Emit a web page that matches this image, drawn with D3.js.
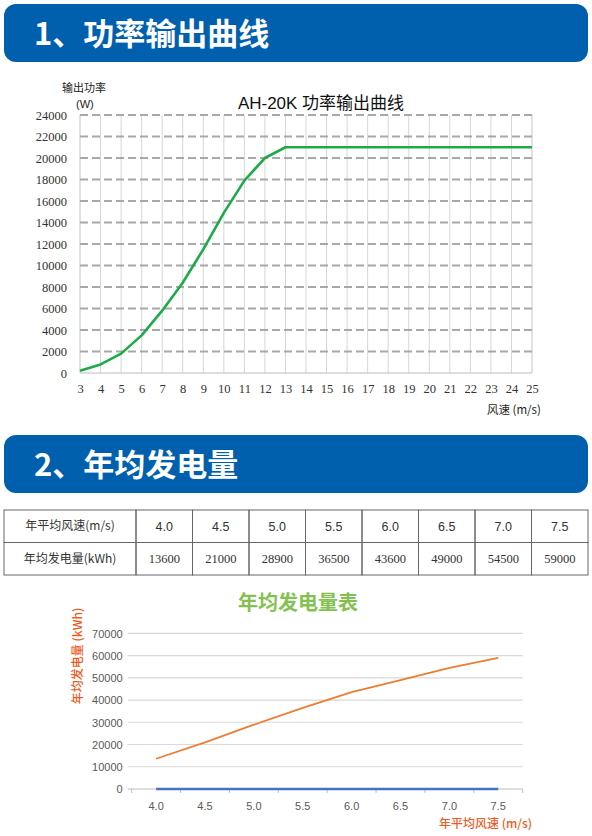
<!DOCTYPE html>
<html>
<head>
<meta charset="utf-8">
<script src="https://cdn.jsdelivr.net/npm/d3@7"></script>
<style>
  body { margin: 0; background: #fff; }
  svg { display: block; }
</style>
</head>
<body>
<div id="page"></div>
<script>
// Power curve data (wind speed m/s -> output W)
const powerSpeeds = [3, 4, 5, 6, 7, 8, 9, 10, 11, 12, 13, 14, 15, 16, 17, 18, 19, 20, 21, 22, 23, 24, 25];
const powerValues = [200, 800, 1800, 3500, 5800, 8400, 11500, 14900, 17900, 20000, 21000, 21000,
    21000, 21000, 21000, 21000, 21000, 21000, 21000, 21000, 21000, 21000, 21000];
const powerTicks = [0, 2000, 4000, 6000, 8000, 10000, 12000, 14000, 16000, 18000, 20000, 22000, 24000];

// Annual energy data
const annualSpeedLabels = ["4.0", "4.5", "5.0", "5.5", "6.0", "6.5", "7.0", "7.5"];
const annualSpeedValues = [4.0, 4.5, 5.0, 5.5, 6.0, 6.5, 7.0, 7.5];
const annualEnergy = [13600, 21000, 28900, 36500, 43600, 49000, 54500, 59000];
const energyTicks = [0, 10000, 20000, 30000, 40000, 50000, 60000, 70000];

const width = 592, height = 836;
const sans = "'Liberation Sans', 'Noto Sans CJK SC', sans-serif";
const cjk = "'Noto Sans CJK SC', sans-serif";
const serif = "'Liberation Serif', 'Noto Sans CJK SC', serif";

const svg = d3.select("#page").append("svg")
    .attr("width", width)
    .attr("height", height);

// Section header bands
function header(y, label) {
    svg.append("rect")
        .attr("x", 4).attr("y", y)
        .attr("width", 584).attr("height", 58)
        .attr("rx", 12)
        .attr("fill", "#0060ae");
    svg.append("text")
        .attr("x", 34).attr("y", y + 41)
        .attr("fill", "#fff")
        .style("font-family", cjk)
        .style("font-weight", 700)
        .style("font-size", "31px")
        .text(label);
}
header(4, "1、功率输出曲线");
header(435, "2、年均发电量");

// ---------- Chart 1: power curve ----------
const x1 = d3.scaleLinear().domain([3, 25]).range([80, 532]);
const y1 = d3.scaleLinear().domain([0, 24000]).range([373, 115]);

const c1 = svg.append("g");

// vertical grid
c1.append("g")
    .selectAll("line")
    .data(powerSpeeds)
    .enter().append("line")
    .attr("x1", d => x1(d)).attr("x2", d => x1(d))
    .attr("y1", y1(24000)).attr("y2", y1(0))
    .attr("stroke", d => (d === 3 || d === 25) ? "#c4c4c4" : "#d6d6d6")
    .attr("stroke-width", 1);

// horizontal dashed grid
c1.append("g")
    .selectAll("line")
    .data(powerTicks.filter(d => d > 0))
    .enter().append("line")
    .attr("x1", x1(3)).attr("x2", x1(25))
    .attr("y1", d => y1(d)).attr("y2", d => y1(d))
    .attr("stroke", "#a8a8a8")
    .attr("stroke-width", 2)
    .attr("stroke-dasharray", "8,4");

// bottom axis line
c1.append("line")
    .attr("x1", x1(3)).attr("x2", x1(25))
    .attr("y1", y1(0)).attr("y2", y1(0))
    .attr("stroke", "#bdbdbd");

// axes (labels only)
const ax1 = c1.append("g")
    .attr("transform", `translate(0,${y1(0) + 6})`)
    .call(d3.axisBottom(x1).tickValues(powerSpeeds).tickFormat(d3.format("d")).tickSize(0));
const ay1 = c1.append("g")
    .attr("transform", `translate(${x1(3) - 10},0)`)
    .call(d3.axisLeft(y1).tickValues(powerTicks).tickFormat(d3.format("d")).tickSize(0));
[ax1, ay1].forEach(a => {
    a.select(".domain").remove();
    a.selectAll("text")
        .style("font-family", serif)
        .style("font-size", "12.5px")
        .attr("fill", "#333");
});
ay1.selectAll("text").attr("dy", "0.35em");
ax1.selectAll("text").attr("dy", "0.9em");

// power line
c1.append("path")
    .datum(powerSpeeds.map((s, i) => [s, powerValues[i]]))
    .attr("fill", "none")
    .attr("stroke", "#1faa4a")
    .attr("stroke-width", 2.6)
    .attr("stroke-linejoin", "round")
    .attr("d", d3.line().x(d => x1(d[0])).y(d => y1(d[1])));

// titles
c1.append("text")
    .attr("x", 321).attr("y", 109)
    .attr("text-anchor", "middle")
    .attr("fill", "#111")
    .style("font-family", sans)
    .style("font-size", "17px")
    .text("AH-20K 功率输出曲线");
c1.append("text")
    .attr("x", 62).attr("y", 92)
    .attr("fill", "#222")
    .style("font-family", cjk)
    .style("font-size", "11px")
    .text("输出功率");
c1.append("text")
    .attr("x", 76).attr("y", 108)
    .attr("fill", "#222")
    .style("font-family", sans)
    .style("font-size", "11px")
    .text("(W)");
c1.append("text")
    .attr("x", 487).attr("y", 414)
    .attr("fill", "#222")
    .style("font-family", cjk)
    .style("font-size", "11.5px")
    .text("风速 (m/s)");

// ---------- Table ----------
const tblLeft = 4, tblTop = 510, rowH = 32.5, firstColW = 132;
const colW = (588 - tblLeft - firstColW) / annualSpeedLabels.length;
const tbl = svg.append("g");
const rows = [
    ["年平均风速(m/s)"].concat(annualSpeedLabels),
    ["年均发电量(kWh)"].concat(annualEnergy.map(String))
];
const colX = i => i === 0 ? tblLeft : tblLeft + firstColW + (i - 1) * colW;
const colWidth = i => i === 0 ? firstColW : colW;

rows.forEach((row, r) => {
    row.forEach((cell, i) => {
        tbl.append("rect")
            .attr("x", colX(i)).attr("y", tblTop + r * rowH)
            .attr("width", colWidth(i)).attr("height", rowH)
            .attr("fill", "none")
            .attr("stroke", "#666")
            .attr("stroke-width", 1);
        tbl.append("text")
            .attr("x", colX(i) + colWidth(i) / 2)
            .attr("y", tblTop + r * rowH + rowH / 2)
            .attr("dy", "0.35em")
            .attr("text-anchor", "middle")
            .attr("fill", "#333")
            .style("font-family", i === 0 ? cjk : (r === 0 ? sans : serif))
            .style("font-size", i === 0 ? "12px" : "12.5px")
            .text(cell);
    });
});

// ---------- Chart 2: annual energy ----------
const x2 = d3.scaleBand().domain(annualSpeedLabels).range([131.7, 522.7]);
const y2 = d3.scaleLinear().domain([0, 70000]).range([789, 633.3]);
const c2 = svg.append("g");

c2.append("g")
    .selectAll("line")
    .data(energyTicks)
    .enter().append("line")
    .attr("x1", x2.range()[0] - 4).attr("x2", x2.range()[1])
    .attr("y1", d => y2(d)).attr("y2", d => y2(d))
    .attr("stroke", d => d === 0 ? "#bfbfbf" : "#d9d9d9")
    .attr("stroke-width", 1.2);

// category tick marks at band edges
c2.append("g")
    .selectAll("line")
    .data(annualSpeedLabels.concat([null]))
    .enter().append("line")
    .attr("x1", (d, i) => x2.range()[0] + i * x2.bandwidth())
    .attr("x2", (d, i) => x2.range()[0] + i * x2.bandwidth())
    .attr("y1", y2(0)).attr("y2", y2(0) + 4)
    .attr("stroke", "#bfbfbf");

const ax2 = c2.append("g")
    .attr("transform", `translate(0,${y2(0) + 8})`)
    .call(d3.axisBottom(x2).tickSize(0));
const ay2 = c2.append("g")
    .attr("transform", `translate(${x2.range()[0] - 6},0)`)
    .call(d3.axisLeft(y2).tickValues(energyTicks).tickFormat(d3.format("d")).tickSize(0));
[ax2, ay2].forEach(a => {
    a.select(".domain").remove();
    a.selectAll("text")
        .style("font-family", sans)
        .style("font-size", "11px")
        .attr("fill", "#595959");
});
ay2.selectAll("text").attr("dy", "0.35em");
ax2.selectAll("text").attr("dy", "0.9em");

const lineX = d => x2(d.label) + x2.bandwidth() / 2;

// wind speed series (shows along zero)
c2.append("path")
    .datum(annualSpeedLabels.map((l, i) => ({ label: l, v: annualSpeedValues[i] })))
    .attr("fill", "none")
    .attr("stroke", "#4472c4")
    .attr("stroke-width", 2.5)
    .attr("d", d3.line().x(lineX).y(d => y2(d.v)));

// energy series
c2.append("path")
    .datum(annualSpeedLabels.map((l, i) => ({ label: l, v: annualEnergy[i] })))
    .attr("fill", "none")
    .attr("stroke", "#ed7d31")
    .attr("stroke-width", 1.8)
    .attr("stroke-linejoin", "round")
    .attr("d", d3.line().x(lineX).y(d => y2(d.v)));

c2.append("text")
    .attr("x", 298).attr("y", 610)
    .attr("text-anchor", "middle")
    .attr("fill", "#84c150")
    .style("font-family", cjk)
    .style("font-weight", 700)
    .style("font-size", "20px")
    .text("年均发电量表");

c2.append("text")
    .attr("transform", "translate(82,656) rotate(-90)")
    .attr("text-anchor", "middle")
    .attr("fill", "#ee5a24")
    .style("font-family", cjk)
    .style("font-weight", 500)
    .style("font-size", "12px")
    .text("年均发电量 (kWh)");

c2.append("text")
    .attr("x", 532).attr("y", 828)
    .attr("text-anchor", "end")
    .attr("fill", "#ee5a24")
    .style("font-family", cjk)
    .style("font-weight", 500)
    .style("font-size", "12px")
    .text("年平均风速 (m/s)");
</script>
</body>
</html>
